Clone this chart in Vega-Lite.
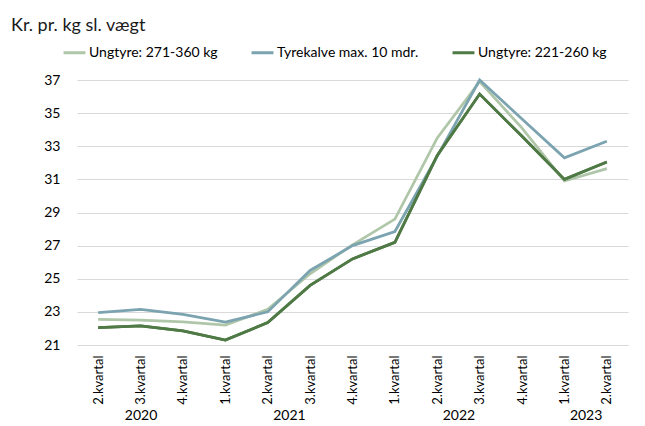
{
  "$schema": "https://vega.github.io/schema/vega-lite/v6.json",
  "autosize": "none",
  "width": 551,
  "height": 265,
  "padding": {"left": 77, "top": 80, "right": 17, "bottom": 81},
  "background": "white",
  "config": {
    "font": "Lato",
    "view": {"stroke": null},
    "axis": {"labelFont": "Lato", "labelColor": "#000000", "titleFont": "Lato"},
    "axisY": {"labelOverlap": false}
  },
  "title": {
    "text": "Kr. pr. kg sl. vægt",
    "anchor": "start",
    "frame": "group",
    "dx": -66,
    "offset": 5,
    "fontSize": 18,
    "fontWeight": "normal",
    "color": "#1a1a1a",
    "font": "Lato"
  },
  "data": {
    "values": [
      {"idx": 0, "quarter": "2.kvartal", "year": 2020, "series": "Ungtyre: 271-360 kg", "value": 22.55},
      {"idx": 1, "quarter": "3.kvartal", "year": 2020, "series": "Ungtyre: 271-360 kg", "value": 22.5},
      {"idx": 2, "quarter": "4.kvartal", "year": 2020, "series": "Ungtyre: 271-360 kg", "value": 22.4},
      {"idx": 3, "quarter": "1.kvartal", "year": 2021, "series": "Ungtyre: 271-360 kg", "value": 22.2},
      {"idx": 4, "quarter": "2.kvartal", "year": 2021, "series": "Ungtyre: 271-360 kg", "value": 23.15},
      {"idx": 5, "quarter": "3.kvartal", "year": 2021, "series": "Ungtyre: 271-360 kg", "value": 25.3},
      {"idx": 6, "quarter": "4.kvartal", "year": 2021, "series": "Ungtyre: 271-360 kg", "value": 27.05},
      {"idx": 7, "quarter": "1.kvartal", "year": 2022, "series": "Ungtyre: 271-360 kg", "value": 28.6},
      {"idx": 8, "quarter": "2.kvartal", "year": 2022, "series": "Ungtyre: 271-360 kg", "value": 33.5},
      {"idx": 9, "quarter": "3.kvartal", "year": 2022, "series": "Ungtyre: 271-360 kg", "value": 36.9},
      {"idx": 10, "quarter": "4.kvartal", "year": 2022, "series": "Ungtyre: 271-360 kg", "value": 34.1},
      {"idx": 11, "quarter": "1.kvartal", "year": 2023, "series": "Ungtyre: 271-360 kg", "value": 30.9},
      {"idx": 12, "quarter": "2.kvartal", "year": 2023, "series": "Ungtyre: 271-360 kg", "value": 31.65},
      {"idx": 0, "quarter": "2.kvartal", "year": 2020, "series": "Tyrekalve max. 10 mdr.", "value": 22.95},
      {"idx": 1, "quarter": "3.kvartal", "year": 2020, "series": "Tyrekalve max. 10 mdr.", "value": 23.15},
      {"idx": 2, "quarter": "4.kvartal", "year": 2020, "series": "Tyrekalve max. 10 mdr.", "value": 22.85},
      {"idx": 3, "quarter": "1.kvartal", "year": 2021, "series": "Tyrekalve max. 10 mdr.", "value": 22.38},
      {"idx": 4, "quarter": "2.kvartal", "year": 2021, "series": "Tyrekalve max. 10 mdr.", "value": 23.0},
      {"idx": 5, "quarter": "3.kvartal", "year": 2021, "series": "Tyrekalve max. 10 mdr.", "value": 25.5},
      {"idx": 6, "quarter": "4.kvartal", "year": 2021, "series": "Tyrekalve max. 10 mdr.", "value": 27.0},
      {"idx": 7, "quarter": "1.kvartal", "year": 2022, "series": "Tyrekalve max. 10 mdr.", "value": 27.85},
      {"idx": 8, "quarter": "2.kvartal", "year": 2022, "series": "Tyrekalve max. 10 mdr.", "value": 32.4},
      {"idx": 9, "quarter": "3.kvartal", "year": 2022, "series": "Tyrekalve max. 10 mdr.", "value": 37.0},
      {"idx": 10, "quarter": "4.kvartal", "year": 2022, "series": "Tyrekalve max. 10 mdr.", "value": 34.65},
      {"idx": 11, "quarter": "1.kvartal", "year": 2023, "series": "Tyrekalve max. 10 mdr.", "value": 32.3},
      {"idx": 12, "quarter": "2.kvartal", "year": 2023, "series": "Tyrekalve max. 10 mdr.", "value": 33.3},
      {"idx": 0, "quarter": "2.kvartal", "year": 2020, "series": "Ungtyre: 221-260 kg", "value": 22.05},
      {"idx": 1, "quarter": "3.kvartal", "year": 2020, "series": "Ungtyre: 221-260 kg", "value": 22.15},
      {"idx": 2, "quarter": "4.kvartal", "year": 2020, "series": "Ungtyre: 221-260 kg", "value": 21.85},
      {"idx": 3, "quarter": "1.kvartal", "year": 2021, "series": "Ungtyre: 221-260 kg", "value": 21.3},
      {"idx": 4, "quarter": "2.kvartal", "year": 2021, "series": "Ungtyre: 221-260 kg", "value": 22.35},
      {"idx": 5, "quarter": "3.kvartal", "year": 2021, "series": "Ungtyre: 221-260 kg", "value": 24.6},
      {"idx": 6, "quarter": "4.kvartal", "year": 2021, "series": "Ungtyre: 221-260 kg", "value": 26.2},
      {"idx": 7, "quarter": "1.kvartal", "year": 2022, "series": "Ungtyre: 221-260 kg", "value": 27.2},
      {"idx": 8, "quarter": "2.kvartal", "year": 2022, "series": "Ungtyre: 221-260 kg", "value": 32.45},
      {"idx": 9, "quarter": "3.kvartal", "year": 2022, "series": "Ungtyre: 221-260 kg", "value": 36.15},
      {"idx": 10, "quarter": "4.kvartal", "year": 2022, "series": "Ungtyre: 221-260 kg", "value": 33.6},
      {"idx": 11, "quarter": "1.kvartal", "year": 2023, "series": "Ungtyre: 221-260 kg", "value": 31.0},
      {"idx": 12, "quarter": "2.kvartal", "year": 2023, "series": "Ungtyre: 221-260 kg", "value": 32.05}
    ]
  },
  "resolve": {"axis": {"x": "independent"}},
  "layer": [
    {
      "mark": {"type": "line", "strokeWidth": 2.75},
      "encoding": {
        "x": {
          "field": "idx",
          "type": "quantitative",
          "scale": {"domain": [-0.5, 12.5], "nice": false, "zero": false},
          "axis": {
            "orient": "bottom",
            "title": null,
            "values": [0, 1, 2, 3, 4, 5, 6, 7, 8, 9, 10, 11, 12],
            "labelExpr": "['2.kvartal','3.kvartal','4.kvartal','1.kvartal','2.kvartal','3.kvartal','4.kvartal','1.kvartal','2.kvartal','3.kvartal','4.kvartal','1.kvartal','2.kvartal'][datum.value]",
            "labelAngle": -90,
            "labelAlign": "right",
            "labelBaseline": "middle",
            "labelFontSize": 13,
            "labelPadding": 10,
            "ticks": false,
            "tickSize": 0,
            "grid": false,
            "domainColor": "#d9d9d9",
            "domainWidth": 1,
            "labelOverlap": false,
            "labelBound": false,
            "labelFlush": false
          }
        },
        "y": {
          "field": "value",
          "type": "quantitative",
          "scale": {"domain": [21, 37], "nice": false, "zero": false},
          "axis": {
            "title": null,
            "values": [21, 23, 25, 27, 29, 31, 33, 35, 37],
            "labelFontSize": 14,
            "labelPadding": 17,
            "labelOverlap": false,
            "labelBound": false,
            "labelFlush": false,
            "ticks": false,
            "domain": false,
            "gridColor": "#d9d9d9",
            "gridWidth": 1
          }
        },
        "color": {
          "field": "series",
          "type": "nominal",
          "scale": {
            "domain": ["Ungtyre: 271-360 kg", "Tyrekalve max. 10 mdr.", "Ungtyre: 221-260 kg"],
            "range": ["#afc6a9", "#7ba3b0", "#4f7a46"]
          },
          "legend": {
            "title": null,
            "orient": "none",
            "direction": "horizontal",
            "legendX": -15,
            "legendY": -40,
            "symbolType": "stroke",
            "symbolSize": 480,
            "symbolStrokeWidth": 3,
            "labelFontSize": 14,
            "labelFont": "Lato",
            "labelColor": "#000000",
            "columnPadding": 27,
            "labelOffset": 2
          }
        }
      }
    },
    {
      "transform": [{"filter": "datum.series == 'Ungtyre: 221-260 kg'"}],
      "mark": {"type": "line", "strokeWidth": 2.75},
      "encoding": {
        "x": {
          "field": "idx",
          "type": "quantitative",
          "axis": {
            "orient": "bottom",
            "title": null,
            "values": [1, 4.5, 8.5, 11.5],
            "labelExpr": "{'1': '2020', '4.5': '2021', '8.5': '2022', '11.5': '2023'}[datum.value]",
            "labelAngle": 0,
            "labelAlign": "center",
            "labelBaseline": "top",
            "labelFontSize": 14,
            "labelPadding": 63,
            "ticks": false,
            "tickSize": 0,
            "grid": false,
            "domain": false,
            "labelOverlap": false,
            "labelBound": false,
            "labelFlush": false
          }
        },
        "y": {
          "field": "value",
          "type": "quantitative",
          "axis": {
            "title": null,
            "values": [21, 23, 25, 27, 29, 31, 33, 35, 37],
            "labelFontSize": 14,
            "labelPadding": 17,
            "labelOverlap": false,
            "ticks": false,
            "domain": false,
            "gridColor": "#d9d9d9",
            "gridWidth": 1
          }
        },
        "color": {"field": "series", "type": "nominal"}
      }
    }
  ]
}
